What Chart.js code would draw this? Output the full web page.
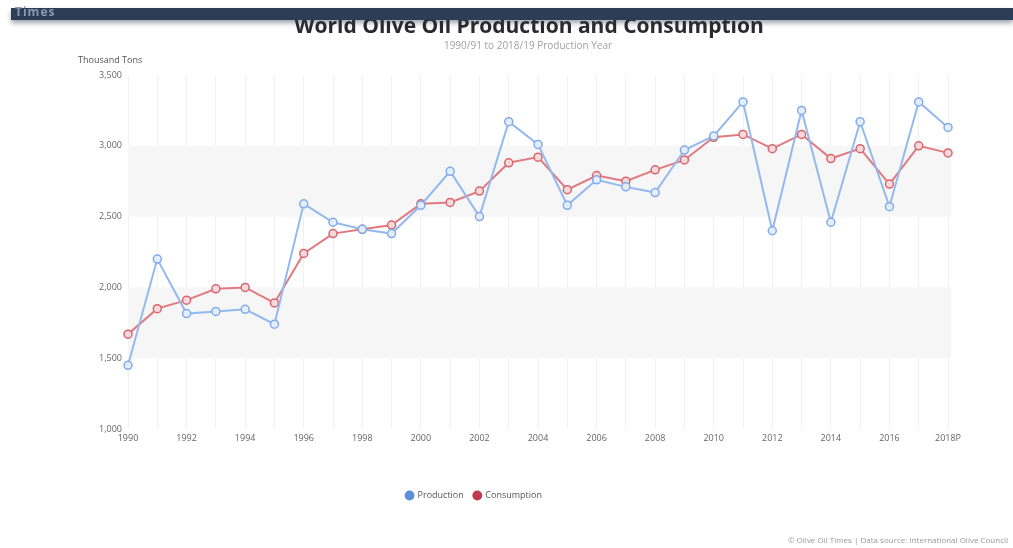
<!DOCTYPE html>
<html>
<head>
<meta charset="utf-8">
<title>World Olive Oil Production and Consumption</title>
<script src="https://cdn.jsdelivr.net/npm/chart.js@4/dist/chart.umd.min.js"></script>
<style>
  html, body { margin: 0; padding: 0; background: #fff; }
  body { width: 1013px; height: 548px; position: relative; overflow: hidden; font-family: "Open Sans", "Noto Sans", sans-serif; }
  .topbar { position: absolute; left: 11px; right: 0; top: 8px; height: 12px; background: #2c3d55;
            box-shadow: 0 3px 5px rgba(40, 50, 70, 0.45); z-index: 2; }
  .topbar span { position: absolute; left: 4px; top: -5px; color: #8e9aab; font: bold 12px "Open Sans", sans-serif; letter-spacing: 1px; }
  #wrap { position: absolute; left: 0; top: 0; width: 1013px; height: 548px; }
</style>
</head>
<body>
<div class="topbar"><span>Times</span></div>
<div id="wrap"><canvas id="chart"></canvas></div>
<script>
// years on the x axis, last one is provisional
const years = ['1990', '1991', '1992', '1993', '1994', '1995', '1996', '1997', '1998', '1999',
  '2000', '2001', '2002', '2003', '2004', '2005', '2006', '2007', '2008', '2009',
  '2010', '2011', '2012', '2013', '2014', '2015', '2016', '2017', '2018P'];

// thousand tons
const production = [1450, 2200, 1815, 1830, 1845, 1740, 2590, 2460, 2410, 2380,
  2580, 2820, 2500, 3170, 3010, 2580, 2760, 2710, 2670, 2970,
  3070, 3310, 2400, 3250, 2460, 3170, 2570, 3310, 3130];

const consumption = [1670, 1850, 1910, 1990, 2000, 1890, 2240, 2380, 2410, 2440,
  2590, 2600, 2680, 2880, 2920, 2690, 2790, 2750, 2830, 2900,
  3060, 3080, 2980, 3080, 2910, 2980, 2730, 3000, 2950];

const yTicks = [1000, 1500, 2000, 2500, 3000, 3500];
const bands = [[1500, 2000], [2500, 3000]];

const titleText = 'World Olive Oil Production and Consumption';
const subtitleText = '1990/91 to 2018/19 Production Year';
const unitText = 'Thousand Tons';
const creditText = '\u00A9 Olive Oil Times | Data source: International Olive Council';

const bandPlugin = {
  id: 'bands',
  beforeDatasetsDraw(chart) {
    const { ctx, chartArea, scales } = chart;
    ctx.save();
    ctx.fillStyle = '#f6f6f6';
    bands.forEach(([lo, hi]) => {
      const top = scales.y.getPixelForValue(hi);
      const bottom = scales.y.getPixelForValue(lo);
      ctx.fillRect(chartArea.left, top, chartArea.right - chartArea.left + 3, bottom - top);
    });
    ctx.restore();
  }
};

const textPlugin = {
  id: 'texts',
  afterDraw(chart) {
    const ctx = chart.ctx;
    ctx.save();
    ctx.textAlign = 'center';
    ctx.textBaseline = 'middle';
    ctx.fillStyle = '#2a2a2a';
    ctx.font = 'bold 21px "Open Sans", sans-serif';
    ctx.fillText(titleText, 529, 27);
    ctx.fillStyle = '#a0a0a0';
    ctx.font = '10px "Open Sans", sans-serif';
    ctx.fillText(subtitleText, 528, 46);
    ctx.textAlign = 'left';
    ctx.fillStyle = '#555';
    ctx.font = '9px "Open Sans", sans-serif';
    ctx.fillText(unitText, 78, 60);
    ctx.textAlign = 'right';
    ctx.fillStyle = '#999';
    ctx.font = '8px "Open Sans", sans-serif';
    ctx.fillText(creditText, 1008, 541);
    ctx.restore();
  }
};

new Chart(document.getElementById('chart').getContext('2d'), {
  type: 'line',
  data: {
    labels: years,
    datasets: [
      {
        label: 'Production',
        data: production,
        borderColor: '#93b9ef',
        backgroundColor: '#5b8fdc',
        borderWidth: 2,
        pointRadius: 4,
        pointBorderWidth: 1.5,
        pointBorderColor: '#82abe8',
        pointBackgroundColor: '#e3eefc',
        tension: 0
      },
      {
        label: 'Consumption',
        data: consumption,
        borderColor: '#e07a80',
        backgroundColor: '#c23a4c',
        borderWidth: 2,
        pointRadius: 4,
        pointBorderWidth: 1.5,
        pointBorderColor: '#d9666f',
        pointBackgroundColor: '#f6d9db',
        tension: 0
      }
    ]
  },
  options: {
    responsive: true,
    maintainAspectRatio: false,
    animation: false,
    layout: { padding: { top: 75, left: 0, right: 65, bottom: 38 } },
    scales: {
      x: {
        grid: { color: '#f0f0f0', drawTicks: false },
        border: { display: false },
        ticks: {
          autoSkip: false,
          maxRotation: 0,
          padding: 4,
          color: '#666',
          font: { size: 9, family: '"Open Sans", sans-serif' },
          callback: function(value, index) {
            return index % 2 === 0 ? this.getLabelForValue(value) : '';
          }
        },
        afterFit(scale) { scale.height = 52; }
      },
      y: {
        min: 1000,
        max: 3500,
        grid: { display: false, drawTicks: false },
        border: { display: false },
        afterBuildTicks(scale) { scale.ticks = yTicks.map(v => ({ value: v })); },
        ticks: {
          padding: 6,
          color: '#666',
          font: { size: 9, family: '"Open Sans", sans-serif' },
          callback: v => v.toLocaleString('en-US')
        },
        afterFit(scale) { scale.width = 128; }
      }
    },
    plugins: {
      legend: {
        position: 'bottom',
        labels: {
          usePointStyle: true,
          pointStyle: 'circle',
          boxWidth: 7,
          boxHeight: 7,
          color: '#555',
          padding: 10,
          font: { size: 9, family: '"Open Sans", sans-serif' },
          generateLabels(chart) {
            return chart.data.datasets.map((ds, i) => ({
              text: ds.label,
              fillStyle: ds.backgroundColor,
              strokeStyle: ds.backgroundColor,
              lineWidth: 0,
              pointStyle: 'circle',
              fontColor: '#555',
              hidden: !chart.isDatasetVisible(i),
              datasetIndex: i
            }));
          }
        }
      },
      tooltip: { enabled: false }
    }
  },
  plugins: [bandPlugin, textPlugin]
});
</script>
</body>
</html>
